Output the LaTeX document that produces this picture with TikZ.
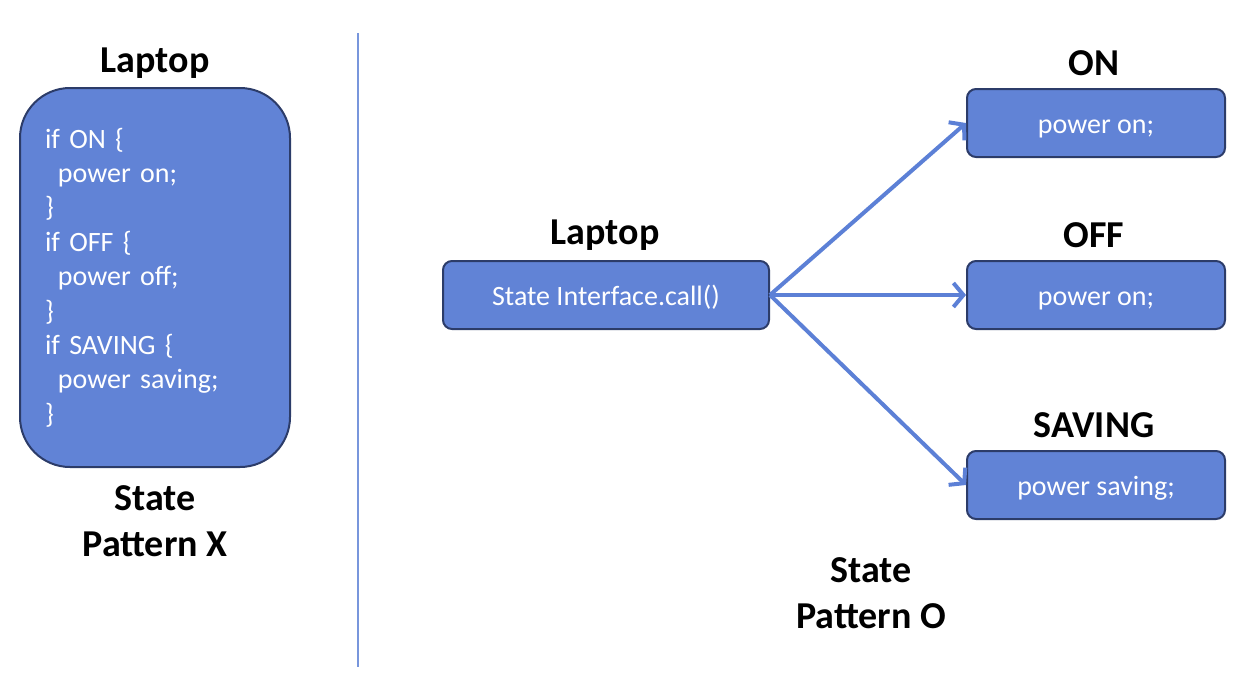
\documentclass[tikz,border=0pt]{standalone}
\usepackage{fontspec}
\setmainfont{Carlito}
\usetikzlibrary{arrows.meta}
\definecolor{boxblue}{RGB}{97,131,214}
\definecolor{boxline}{RGB}{44,60,105}
\definecolor{arrowblue}{RGB}{92,128,214}
\definecolor{splitblue}{RGB}{120,150,220}
\begin{document}
\begin{tikzpicture}[x=1pt,y=-1pt,
  box/.style={draw=boxline,line width=2pt,fill=boxblue,text=white,rounded corners=9pt,
    minimum width=258pt,minimum height=68pt,font=\fontsize{28}{34.4}\selectfont},
  oneline/.style={box,text height=20pt,text depth=0pt},
  head/.style={align=center,font=\fontsize{38}{46}\selectfont\bfseries},
  link/.style={draw=arrowblue,line width=4pt,-{Straight Barb[length=10pt,width=24pt]}}]
\useasboundingbox (0,0) rectangle (1248,699);
% left side: one big state box
\node[head] (lefttitle) at (155,63) {Laptop};
\node[box,rounded corners=50pt,minimum width=270pt,minimum height=379pt,
  text width=220pt,inner xsep=25pt,align=left] (code) at (155,277.5)
  {if ON \{\\\hspace*{13pt}power on;\\\}\\if OFF \{\\\hspace*{13pt}power off;\\\}\\
   if SAVING \{\\\hspace*{13pt}power saving;\\\}};
\node[head] (leftcap) at (155,521) {State\\Pattern X};
% divider
\draw[splitblue,line width=1.5pt] (358,33) -- (358,667);
% right side
\node[head] (laptoptitle) at (605,235) {Laptop};
\node[oneline,minimum width=326pt] (laptop) at (606,295) {State Interface.call()};
\node[head] (ontitle) at (1094,63) {ON};
\node[oneline] (on) at (1096,123) {power on;};
\node[head] (offtitle) at (1094,235) {OFF};
\node[oneline] (off) at (1096,295) {power on;};
\node[head] (savingtitle) at (1094,425) {SAVING};
\node[oneline] (saving) at (1096,485) {power saving;};
\node[head] (rightcap) at (871,593) {State\\Pattern O};
\foreach \s in {on,off,saving}
\draw[link] (laptop.east) -- (\s.west);
\end{tikzpicture}
\end{document}
